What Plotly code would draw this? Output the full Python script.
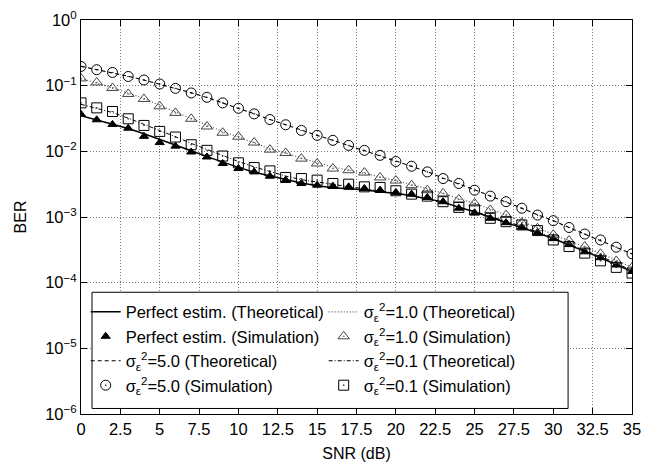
import plotly.graph_objects as go

snr = list(range(0, 36))

# Perfect estimation
perf_theo = [0.035, 0.030, 0.026, 0.0222, 0.0185, 0.0153, 0.0125, 0.0102, 0.0083, 0.0068,
             0.0057, 0.0048, 0.0042, 0.0037, 0.0033, 0.0030, 0.0028, 0.0027, 0.0026, 0.0024,
             0.0023, 0.0021, 0.0019, 0.0017, 0.0014, 0.0012, 0.00099, 0.00083, 0.00069, 0.00057,
             0.00047, 0.00038, 0.00030, 0.00024, 0.00019, 0.000148]
perf_sim = [0.0367, 0.0302, 0.0257, 0.0225, 0.0169, 0.0136, 0.0120, 0.00977, 0.0082, 0.00652,
            0.00547, 0.00486, 0.00418, 0.00364, 0.00324, 0.00305, 0.00295, 0.00288, 0.00272, 0.00256,
            0.00237, 0.00223, 0.00199, 0.00171, 0.00136, 0.00116, 0.000955, 0.00082, 0.000698, 0.000579,
            0.000468, 0.00038, 0.000295, 0.00024, 0.000186, 0.000148]

# sigma^2 = 5.0
s50_theo = [0.197, 0.176, 0.158, 0.139, 0.122, 0.106, 0.091, 0.078, 0.066, 0.055,
            0.0455, 0.0373, 0.0306, 0.0252, 0.0208, 0.0175, 0.0147, 0.0123, 0.0104, 0.0087,
            0.0071, 0.0059, 0.0049, 0.0039, 0.0032, 0.0026, 0.00209, 0.00170, 0.00136, 0.00108,
            0.00088, 0.00069, 0.00055, 0.00044, 0.00035, 0.000275]
s50_sim = [0.196, 0.175, 0.159, 0.138, 0.122, 0.106, 0.091, 0.0774, 0.0665, 0.0547,
           0.0452, 0.0372, 0.0305, 0.0254, 0.0208, 0.0175, 0.0147, 0.0123, 0.01035, 0.00869,
           0.0070, 0.00593, 0.00486, 0.00385, 0.00324, 0.00256, 0.00208, 0.00171, 0.00136, 0.00107,
           0.000879, 0.000692, 0.00055, 0.000447, 0.000347, 0.000275]

# sigma^2 = 1.0
s10_theo = [0.128, 0.110, 0.093, 0.077, 0.064, 0.050, 0.040, 0.032, 0.025, 0.020,
            0.0165, 0.0135, 0.011, 0.0094, 0.0079, 0.0067, 0.0058, 0.0051, 0.0046, 0.0041,
            0.0036, 0.0031, 0.0027, 0.0023, 0.0019, 0.00162, 0.00132, 0.00108, 0.00085, 0.00069,
            0.00054, 0.00044, 0.00035, 0.00028, 0.00022, 0.000172]
s10_sim = [0.129, 0.112, 0.0923, 0.0748, 0.0628, 0.0485, 0.0385, 0.0313, 0.0239, 0.0192,
           0.0167, 0.0136, 0.0106, 0.00944, 0.00774, 0.00652, 0.00547, 0.00515, 0.00475, 0.0040,
           0.00359, 0.00305, 0.00256, 0.00229, 0.00185, 0.00161, 0.00128, 0.00107, 0.00082, 0.000675,
           0.000537, 0.000437, 0.000355, 0.000275, 0.000214, 0.00017]

# sigma^2 = 0.1
s01_theo = [0.052, 0.045, 0.039, 0.032, 0.026, 0.021, 0.0167, 0.0132, 0.0106, 0.0086,
            0.0070, 0.0058, 0.0049, 0.0042, 0.0037, 0.0034, 0.0031, 0.0029, 0.0027, 0.0025,
            0.0023, 0.0021, 0.00188, 0.00165, 0.00142, 0.00122, 0.00103, 0.00087, 0.00072, 0.00059,
            0.00048, 0.00039, 0.00031, 0.00025, 0.00020, 0.000152]
s01_sim = [0.0547, 0.0459, 0.0404, 0.0313, 0.0248, 0.0201, 0.0165, 0.0126, 0.01035, 0.00849,
           0.00668, 0.00566, 0.00504, 0.0040, 0.00385, 0.00364, 0.00324, 0.00316, 0.00288, 0.00282,
           0.00251, 0.00223, 0.00208, 0.00171, 0.0014, 0.00128, 0.000955, 0.000849, 0.000757, 0.000621,
           0.000447, 0.000355, 0.000282, 0.000215, 0.000171, 0.00014]

x_ticks = [0, 2.5, 5, 7.5, 10, 12.5, 15, 17.5, 20, 22.5, 25, 27.5, 30, 32.5, 35]
x_ticklabels = ["0", "2.5", "5", "7.5", "10", "12.5", "15", "17.5", "20", "22.5", "25", "27.5", "30", "32.5", "35"]
y_ticks = [1e-6, 1e-5, 1e-4, 1e-3, 1e-2, 1e-1, 1]
y_ticklabels = ["10<sup>−6</sup>", "10<sup>−5</sup>", "10<sup>−4</sup>", "10<sup>−3</sup>",
                "10<sup>−2</sup>", "10<sup>−1</sup>", "10<sup>0</sup>"]

sig = "σ<sub>ε</sub><sup>2</sup>"

fig = go.Figure()

def line(y, name, dash, color="black", width=1.2):
    fig.add_trace(go.Scatter(x=snr, y=y, mode="lines", name=name,
                             line=dict(color=color, dash=dash, width=width)))

def mark(y, name, symbol, size, color="black"):
    fig.add_trace(go.Scatter(x=snr, y=y, mode="markers", name=name,
                             marker=dict(symbol=symbol, size=size, color=color,
                                         line=dict(color=color, width=1))))

# legend order row-major (2 columns)
line(perf_theo, "Perfect estim. (Theoretical)", "solid", width=1.5)
line(s10_theo, sig + "=1.0 (Theoretical)", "1px,2px", color="#555", width=1.2)
mark(perf_sim, "Perfect estim. (Simulation)", "triangle-up", 8)
mark(s10_sim, sig + "=1.0 (Simulation)", "triangle-up-open-dot", 10, color="#444")
line(s50_theo, sig + "=5.0 (Theoretical)", "4px,3px", width=1.1)
line(s01_theo, sig + "=0.1 (Theoretical)", "4px,2px,1px,2px", width=1.0)
mark(s50_sim, sig + "=5.0 (Simulation)", "circle-open-dot", 10)
mark(s01_sim, sig + "=0.1 (Simulation)", "square-open-dot", 10)

axis_common = dict(showline=True, linecolor="black", linewidth=1, mirror="allticks",
                   ticks="inside", ticklen=6, tickcolor="black", automargin=False,
                   showgrid=True, gridcolor="#777", griddash="1px,2px", gridwidth=1,
                   zeroline=False, tickfont=dict(size=16.5, color="black"))

# legend frame (white box covering grid and curves)
fig.add_shape(type="rect", xref="x domain", yref="y domain",
              x0=0.020, x1=0.884, y0=0.014, y1=0.309,
              fillcolor="white", line=dict(color="black", width=1), layer="above")

fig.update_layout(
    width=659, height=464,
    margin=dict(l=81, r=27, t=20, b=50),
    paper_bgcolor="white", plot_bgcolor="white",
    font=dict(family="Liberation Sans, Arial, sans-serif", size=16, color="black"),
    xaxis=dict(range=[0, 35], tickvals=x_ticks, ticktext=x_ticklabels,
               title=dict(text="SNR (dB)", standoff=11, font=dict(size=16)), **axis_common),
    yaxis=dict(type="log", range=[-6, 0], tickvals=y_ticks, ticktext=y_ticklabels,
               title=dict(text="BER", standoff=14, font=dict(size=16)), **axis_common),
    showlegend=True,
    legend=dict(orientation="h", x=0.0085, y=0.303, xanchor="left", yanchor="top",
                bgcolor="rgba(0,0,0,0)", borderwidth=0,
                entrywidth=193, entrywidthmode="pixels", itemwidth=30,
                font=dict(size=16.5), tracegroupgap=0, traceorder="normal"),
)

fig.write_html("out.html", config={"displayModeBar": False},
               post_script="document.body.style.margin='0px';")
